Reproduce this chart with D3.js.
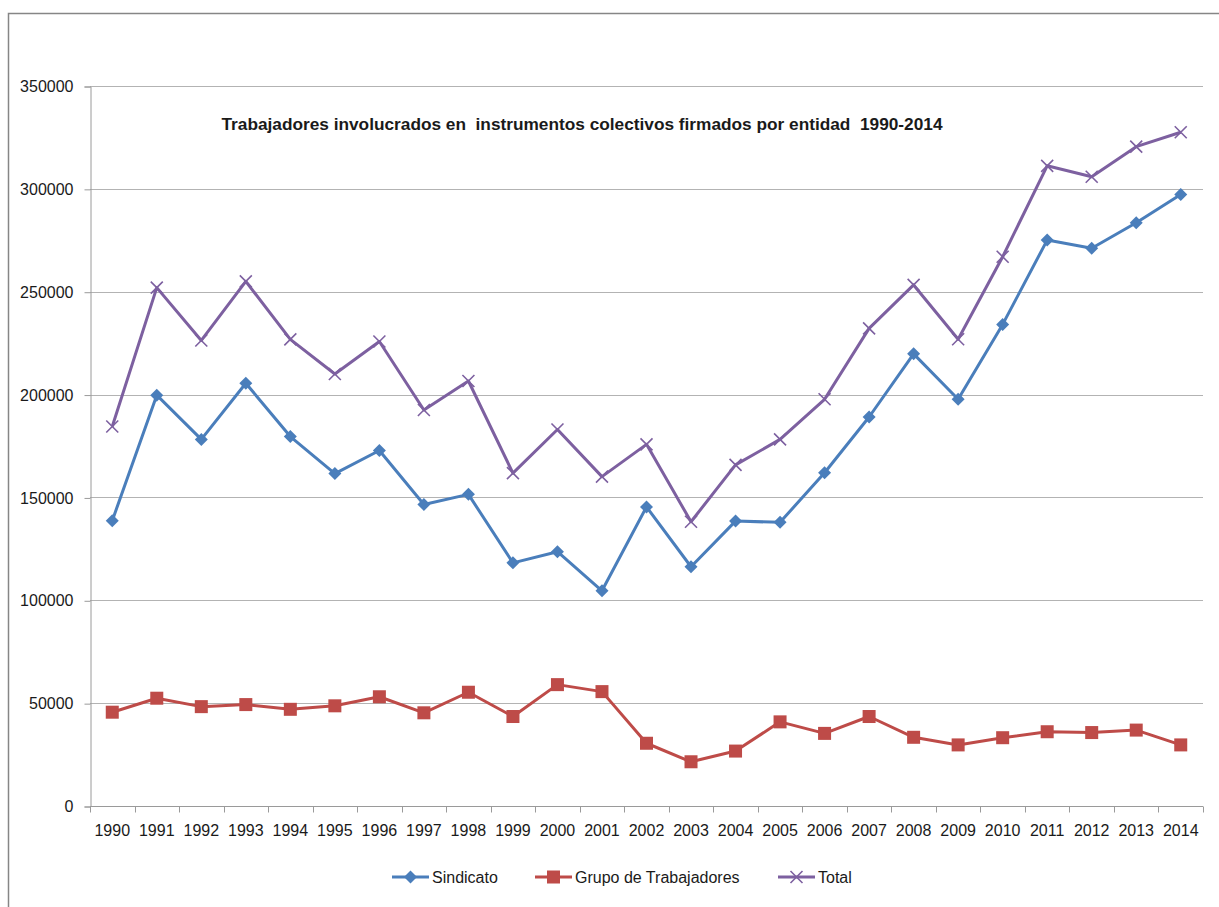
<!DOCTYPE html>
<html lang="es">
<head>
<meta charset="UTF-8">
<title>Trabajadores involucrados</title>
<script src="https://d3js.org/d3.v7.min.js"></script>
<style>
  body { margin: 0; background: #fff; }
  svg text { font-family: "Liberation Sans", Arial, sans-serif; fill: #1a1a1a; }
</style>
</head>
<body>
<svg width="1219" height="907"></svg>
<script>
// data
var years = ["1990","1991","1992","1993","1994","1995","1996","1997","1998","1999",
             "2000","2001","2002","2003","2004","2005","2006","2007","2008","2009",
             "2010","2011","2012","2013","2014"];
var sindicato = [138700,199700,178200,205500,179600,161600,172800,146600,151500,118200,
                 123600,104600,145400,116300,138500,137900,162000,189100,219800,197700,
                 234100,275100,271100,283500,297300];
var grupo = [45600,52400,48300,49300,47000,48700,53100,45300,55300,43500,
             59000,55600,30500,21500,26700,40900,35300,43500,33400,29700,
             33200,36100,35700,36900,29700];
var total = [184500,252000,226300,255000,226800,210000,225800,192500,206600,161800,
             183000,160100,175800,138200,165800,178200,197700,232200,253300,226900,
             267000,311200,305900,320500,327500];
var yTicks = [0,50000,100000,150000,200000,250000,300000,350000];
var title = "Trabajadores involucrados en\u00a0 instrumentos colectivos firmados por entidad\u00a0 1990-2014";

var series = [
  {name: "Sindicato", values: sindicato, color: "#4A7EBB", marker: "diamond"},
  {name: "Grupo de Trabajadores", values: grupo, color: "#BE4B48", marker: "square"},
  {name: "Total", values: total, color: "#7D60A0", marker: "cross"}
];

var svg = d3.select("svg");

// outer chart border (cut off at right and bottom)
svg.append("rect")
   .attr("x", 8.5).attr("y", 13.5)
   .attr("width", 1240).attr("height", 920)
   .attr("fill", "none").attr("stroke", "#868686").attr("stroke-width", 1.5);

var plotLeft = 90, plotRight = 1203, plotTop = 86, plotBottom = 806;

var x = d3.scaleBand().domain(years).range([plotLeft, plotRight]);
var y = d3.scaleLinear().domain([0, 350000]).range([plotBottom, plotTop]);

// gridlines
svg.append("g")
   .selectAll("line")
   .data(yTicks.slice(1))
   .enter().append("line")
   .attr("x1", plotLeft).attr("x2", plotRight)
   .attr("y1", function(d) { return Math.round(y(d)) + 0.5; })
   .attr("y2", function(d) { return Math.round(y(d)) + 0.5; })
   .attr("stroke", "#b3b3b3").attr("stroke-width", 1);

// y axis
var yAxis = svg.append("g")
   .attr("transform", "translate(" + (plotLeft + 0.5) + ",0.5)")
   .call(d3.axisLeft(y).tickValues(yTicks).tickSize(6).tickPadding(11).tickFormat(d3.format("d")));
yAxis.select(".domain").attr("stroke", "#9a9a9a");
yAxis.selectAll(".tick line").attr("stroke", "#9a9a9a");
yAxis.selectAll("text").attr("font-size", "16px").attr("fill", "#1a1a1a")
   .attr("font-family", "Liberation Sans, Arial, sans-serif");

// x axis with ticks on band boundaries
var xAxisG = svg.append("g").attr("transform", "translate(0," + (plotBottom + 0.5) + ")");
xAxisG.append("line").attr("x1", plotLeft).attr("x2", plotRight).attr("stroke", "#9a9a9a");
xAxisG.selectAll(".tk")
   .data(years.concat(["end"]))
   .enter().append("line")
   .attr("x1", function(d, i) { return Math.round(plotLeft + i * x.bandwidth()) + 0.5; })
   .attr("x2", function(d, i) { return Math.round(plotLeft + i * x.bandwidth()) + 0.5; })
   .attr("y1", 0).attr("y2", 6)
   .attr("stroke", "#9a9a9a");
xAxisG.selectAll("text")
   .data(years)
   .enter().append("text")
   .attr("x", function(d) { return x(d) + x.bandwidth() / 2; })
   .attr("y", 29)
   .attr("text-anchor", "middle")
   .attr("font-size", "16px")
   .text(function(d) { return d; });

// title
svg.append("text")
   .attr("x", 582).attr("y", 130)
   .attr("text-anchor", "middle")
   .attr("font-size", "16px").attr("font-weight", "bold")
   .attr("textLength", 721).attr("lengthAdjust", "spacingAndGlyphs")
   .text(title);

function drawMarker(g, type, color) {
  if (type === "diamond") {
    g.append("path").attr("d", "M0,-6.5L6.5,0L0,6.5L-6.5,0Z").attr("fill", color);
  } else if (type === "square") {
    g.append("rect").attr("x", -6.5).attr("y", -6.5).attr("width", 13).attr("height", 13).attr("fill", color);
  } else {
    g.append("path").attr("d", "M-6,-6L6,6M-6,6L6,-6").attr("stroke", color)
     .attr("stroke-width", 1.6).attr("fill", "none");
  }
}

var line = d3.line()
   .x(function(d, i) { return x(years[i]) + x.bandwidth() / 2; })
   .y(function(d) { return y(d); });

series.forEach(function(s) {
  svg.append("path")
     .datum(s.values)
     .attr("d", line)
     .attr("fill", "none")
     .attr("stroke", s.color)
     .attr("stroke-width", 3)
     .attr("stroke-linejoin", "round");
  svg.append("g").selectAll("g")
     .data(s.values)
     .enter().append("g")
     .attr("transform", function(d, i) {
       return "translate(" + (x(years[i]) + x.bandwidth() / 2) + "," + y(d) + ")";
     })
     .each(function() { drawMarker(d3.select(this), s.marker, s.color); });
});

// legend
var legendPos = [{lx: 392, tx: 432}, {lx: 535, tx: 575}, {lx: 778, tx: 818}];
var legend = svg.append("g").attr("transform", "translate(0,877)");
series.forEach(function(s, i) {
  var p = legendPos[i];
  var g = legend.append("g").attr("transform", "translate(" + p.lx + ",0)");
  g.append("line").attr("x1", 0).attr("x2", 37).attr("y1", 0).attr("y2", 0)
   .attr("stroke", s.color).attr("stroke-width", 3);
  var m = g.append("g").attr("transform", "translate(18.5,0)");
  drawMarker(m, s.marker, s.color);
  legend.append("text")
   .attr("x", p.tx).attr("y", 6)
   .attr("font-size", "16px")
   .text(s.name);
});
</script>
</body>
</html>
